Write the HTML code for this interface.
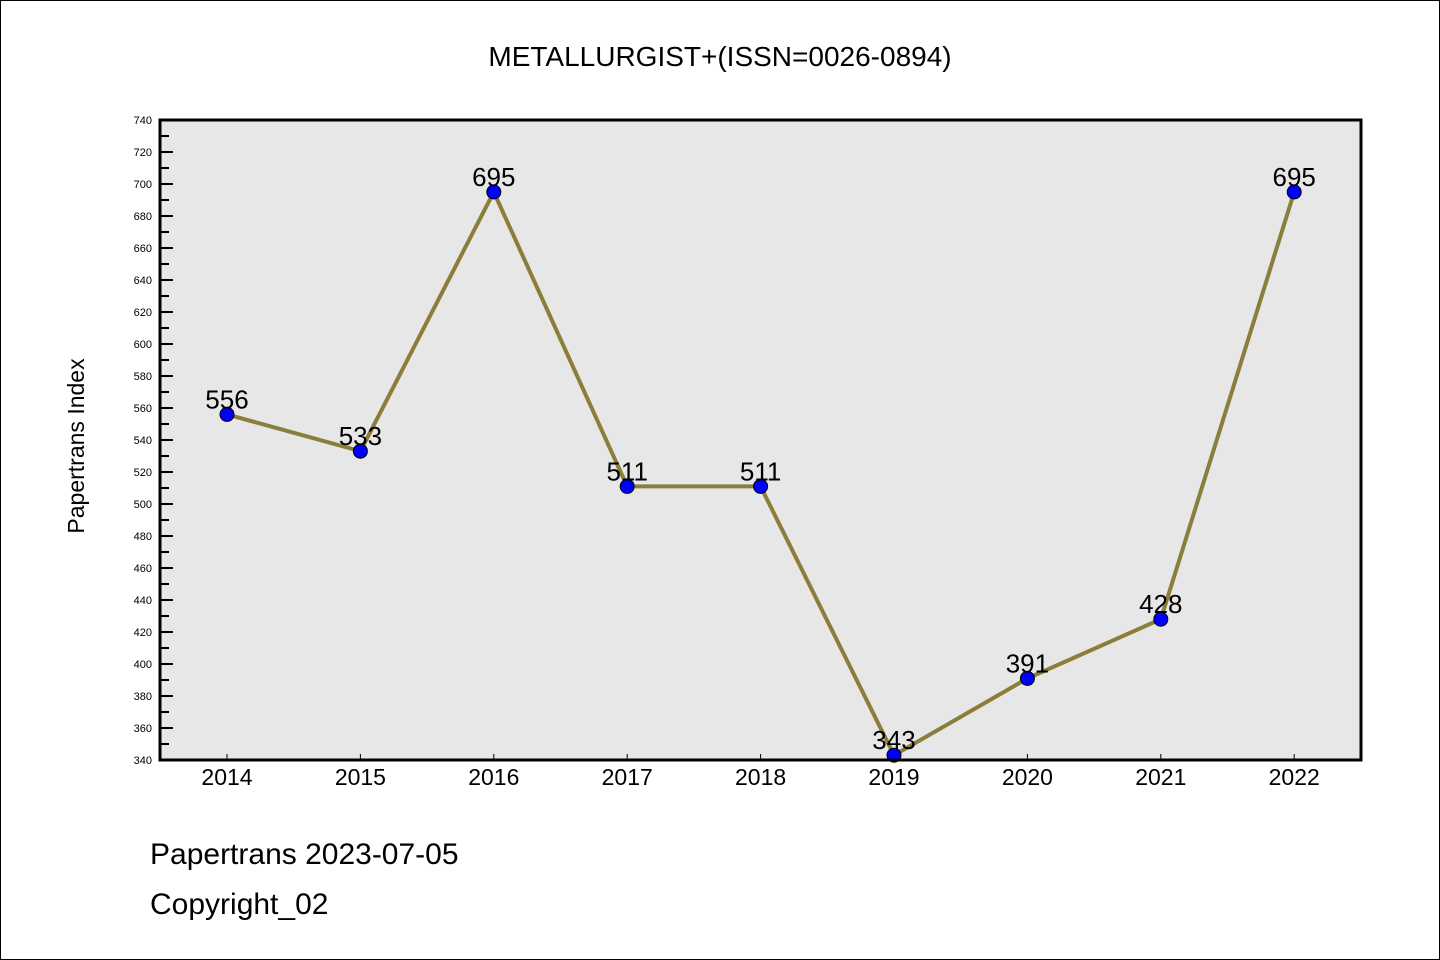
<!DOCTYPE html>
<html><head><meta charset="utf-8"><style>
body{margin:0;background:#fff}
svg{display:block}
text{font-family:"Liberation Sans","WenQuanYi Zen Hei",sans-serif}
</style></head><body>
<svg width="1440" height="960">
<rect x="0.5" y="0.5" width="1439" height="959" fill="#fff" stroke="#000"/>
<text x="720" y="66" text-anchor="middle" font-size="28" font-family="WenQuanYi Zen Hei, Liberation Mono, monospace">METALLURGIST+(ISSN=0026-0894)</text>
<rect x="160" y="120" width="1201" height="640" fill="#e7e7e7"/>
<g id="yaxis"></g>
<g id="xaxis"></g>
<g id="series"></g>
<rect x="160" y="120" width="1201" height="640" fill="none" stroke="#000" stroke-width="3"/>
<text transform="translate(84,446) rotate(-90)" text-anchor="middle" font-size="23" font-family="WenQuanYi Zen Hei, Liberation Mono, monospace">Papertrans Index</text>
<text x="150" y="864" font-size="30" font-family="WenQuanYi Zen Hei, Liberation Mono, monospace">Papertrans 2023-07-05</text>
<text x="150" y="914" font-size="30" font-family="WenQuanYi Zen Hei, Liberation Mono, monospace">Copyright_02</text>
</svg>
<script>
const categories=["2014","2015","2016","2017","2018","2019","2020","2021","2022"];
const values=[556,533,695,511,511,343,391,428,695];
const yTicks=[340,360,380,400,420,440,460,480,500,520,540,560,580,600,620,640,660,680,700,720,740];
const NS="http://www.w3.org/2000/svg";
function y(v){return 760-(v-340)*1.6;}
function x(i){return 227+i*133.4;}
function mk(t,a,p){const e=document.createElementNS(NS,t);for(const k in a)e.setAttribute(k,a[k]);p.appendChild(e);return e;}
const ya=document.getElementById('yaxis'),xa=document.getElementById('xaxis'),s=document.getElementById('series');
yTicks.forEach((v,i)=>{
 const l=mk('line',{x1:160,x2:173,y1:y(v),y2:y(v),stroke:'#000','stroke-width':2},ya);
 
 
 const t=mk('text',{x:152,y:y(v)+4,'text-anchor':'end','font-size':11},ya);
 t.textContent=v;
 
 
 if(i<yTicks.length-1){
  const m=mk('line',{x1:160,x2:169,y1:y(v+10),y2:y(v+10),stroke:'#000','stroke-width':2},ya);
  
  
 }
});
categories.forEach((c,i)=>{
 const l=mk('line',{x1:x(i),x2:x(i),y1:760,y2:754,stroke:'#000','stroke-width':1},xa);
 
 
 const t=mk('text',{x:x(i),y:785,'text-anchor':'middle','font-size':23},xa);
 t.textContent=c;
 
 
});
const pl=mk('polyline',{points:values.map((v,i)=>x(i)+','+y(v)).join(' '),fill:'none',stroke:'#8b7d3a','stroke-width':4},s);


values.forEach((v,i)=>{
 const c=mk('circle',{cx:x(i),cy:y(v),r:7,fill:'#0000ff',stroke:'#000','stroke-width':1},s);
 
 
 const t=mk('text',{x:x(i),y:y(v)-6,'text-anchor':'middle','font-size':26},s);
 t.textContent=v;
 
 
});
</script>
</body></html>
